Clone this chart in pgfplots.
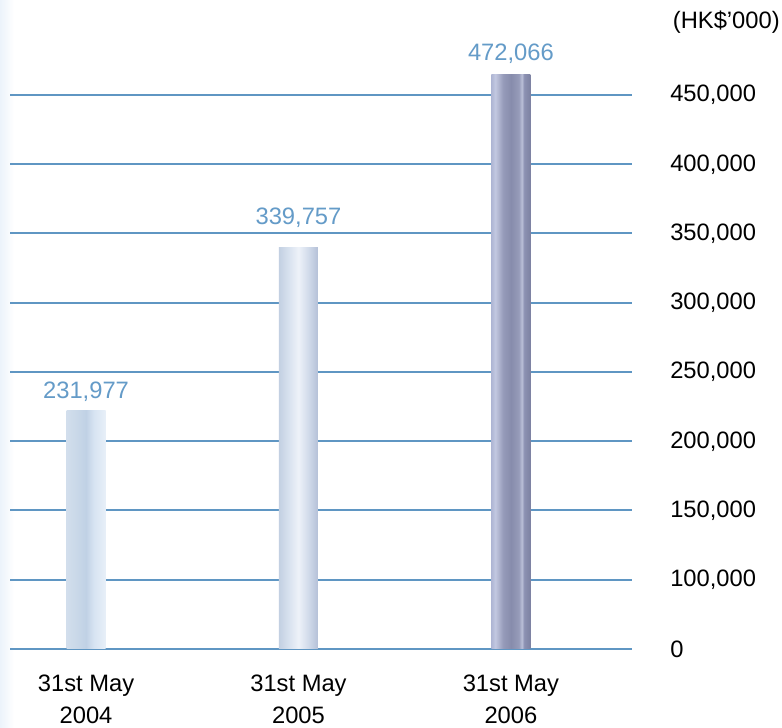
\documentclass[border=0pt]{standalone}
\usepackage{pgfplots}
\pgfplotsset{compat=1.18}
\usepackage{fontspec}
\setmainfont{Liberation Sans}
\definecolor{gridblue}{RGB}{95,150,195}
\definecolor{valblue}{RGB}{100,155,200}
\definecolor{bgblue}{RGB}{236,243,251}
% bar shadings, path box mapped onto 25bp..75bp
\pgfdeclarehorizontalshading{barA}{100bp}{
  color(0bp)=(rgb,255:red,210;green,222;blue,236);
  color(25bp)=(rgb,255:red,210;green,222;blue,236);
  color(40bp)=(rgb,255:red,200;green,215;blue,232);
  color(50bp)=(rgb,255:red,192;green,209;blue,229);
  color(60bp)=(rgb,255:red,215;green,228;blue,242);
  color(75bp)=(rgb,255:red,232;green,240;blue,248);
  color(100bp)=(rgb,255:red,232;green,240;blue,248)}
\pgfdeclarehorizontalshading{barB}{100bp}{
  color(0bp)=(rgb,255:red,195;green,208;blue,226);
  color(25bp)=(rgb,255:red,195;green,208;blue,226);
  color(37bp)=(rgb,255:red,215;green,225;blue,238);
  color(50bp)=(rgb,255:red,238;green,242;blue,249);
  color(62bp)=(rgb,255:red,210;green,220;blue,235);
  color(75bp)=(rgb,255:red,180;green,192;blue,215);
  color(100bp)=(rgb,255:red,180;green,192;blue,215)}
\pgfdeclarehorizontalshading{barC}{100bp}{
  color(0bp)=(rgb,255:red,175;green,182;blue,212);
  color(25bp)=(rgb,255:red,175;green,182;blue,212);
  color(30bp)=(rgb,255:red,195;green,200;blue,225);
  color(40bp)=(rgb,255:red,150;green,155;blue,185);
  color(50bp)=(rgb,255:red,135;green,140;blue,172);
  color(60bp)=(rgb,255:red,150;green,155;blue,185);
  color(64bp)=(rgb,255:red,185;green,190;blue,215);
  color(67bp)=(rgb,255:red,140;green,145;blue,178);
  color(75bp)=(rgb,255:red,125;green,130;blue,162);
  color(100bp)=(rgb,255:red,125;green,130;blue,162)}

\begin{document}
\begin{tikzpicture}[x=0.75pt,y=0.75pt]
\useasboundingbox (0,0) rectangle (782,728);
\fill[white] (0,0) rectangle (782,728);
\shade[left color=bgblue,right color=white] (0,0) rectangle (14,728);
% y in thousands of HK$'000; the chart's scale jumps 0 -> 100,000 in one step
% bar heights as drawn in the chart, labels as printed
\begin{axis}[
  at={(7.5pt,59.25pt)}, anchor=south west,
  scale only axis, width=466.5pt, height=415.5pt,
  y coord trafo/.code={\pgfmathparse{#1<100 ? #1/2 : #1-50}},
  y coord inv trafo/.code={\pgfmathparse{#1<50 ? #1*2 : #1+50}},
  xmin=-0.358, xmax=2.57, ymin=0, ymax=450,
  axis line style={draw=none},
  major tick length=0pt,
  ymajorgrids, grid style={gridblue,line width=1.5pt},
  ytick={0,100,150,200,250,300,350,400,450},
  yticklabels={0,{100,000},{150,000},{200,000},{250,000},
    {300,000},{350,000},{400,000},{450,000}},
  yticklabel pos=right,
  yticklabel style={anchor=west,inner sep=0pt,xshift=28.5pt,
    font=\fontsize{17.8}{24}\selectfont},
  xtick={0,1,2},
  xticklabels={{31st May\\2004},{31st May\\2005},{31st May\\2006}},
  xticklabel style={anchor=north,inner sep=0pt,yshift=-19pt,align=center,
    font=\fontsize{17.8}{24}\selectfont},
  clip=false,
  every axis plot/.append style={ybar,bar width=29.25pt,bar shift=0pt,draw=none,
    nodes near coords style={font=\fontsize{17.8}{24}\selectfont,
      text=valblue,anchor=south,inner sep=0pt,yshift=7pt}},
]
\addplot[shading=barA,nodes near coords={231,977}] coordinates {(0,222)};
\addplot[shading=barB,nodes near coords={339,757},
  nodes near coords style={yshift=8pt}] coordinates {(1,340)};
\addplot[shading=barC,nodes near coords={472,066},
  nodes near coords style={yshift=1pt}] coordinates {(2,465)};
\end{axis}
\node[anchor=east,inner sep=0pt,font=\fontsize{17.8}{24}\selectfont]
  at (780,706) {(HK\$’000)};
\end{tikzpicture}
\end{document}
